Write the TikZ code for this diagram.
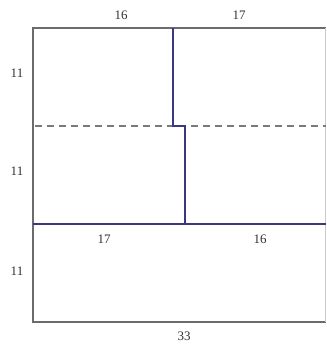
\documentclass[tikz,border=0pt]{standalone}
\usepackage{fontspec}
\setmainfont{Liberation Serif}
\begin{document}
\begin{tikzpicture}[x=1pt,y=-1pt,
  outer/.style={draw=black!58, line width=2.6pt},
  inner/.style={draw={rgb,255:red,58;green,56;blue,130}, line width=2.8pt},
  dashline/.style={draw=black!52, line width=2pt, dash pattern=on 7pt off 5pt},
  lab/.style={font=\fontsize{13}{15}\selectfont, text=black!80, inner sep=0pt}]
\useasboundingbox (0,0) rectangle (326,347);
\fill[white] (0,0) rectangle (326,347);
% outer frame (left, top, bottom)
\draw[outer] (326,28) -- (33,28) -- (33,322) -- (326,322);
\draw[draw=black!20, line width=1pt] (325,28) -- (325,322);
% dashed line
\draw[dashline] (35,126) -- (326,126);
% thick blue line
\draw[inner] (33,224) -- (326,224);
% stepped vertical
\draw[inner] (173,28) -- (173,126) -- (185,126) -- (185,224);
% labels
\node[lab] (t16) at (121,15) {16};
\node[lab] (t17) at (239,15) {17};
\node[lab] (l1) at (17,73) {11};
\node[lab] (l2) at (17,171) {11};
\node[lab] (l3) at (17,271) {11};
\node[lab] (m17) at (104,239) {17};
\node[lab] (m16) at (260,239) {16};
\node[lab] (b33) at (184,336) {33};
\end{tikzpicture}
\end{document}
